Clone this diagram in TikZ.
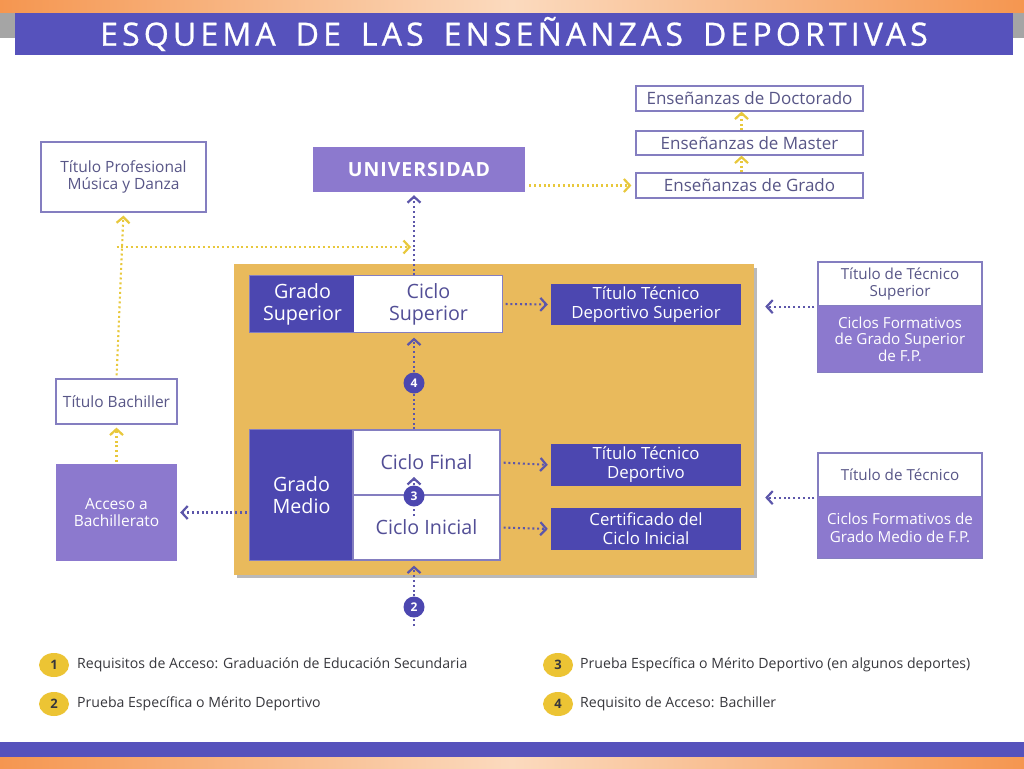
\documentclass[tikz,border=0pt]{standalone}
\usepackage{fontspec}
\setmainfont{Open Sans}
\newfontfamily\titlefont[LetterSpace=13,FakeBold=0.8]{Open Sans}
\newfontfamily\unifont[LetterSpace=5]{Open Sans}
\usetikzlibrary{arrows.meta,calc,shapes.geometric}
\definecolor{dblue}{RGB}{76,71,176}
\definecolor{hblue}{RGB}{86,82,188}
\definecolor{lpurp}{RGB}{140,121,206}
\definecolor{panelc}{RGB}{233,186,92}
\definecolor{bord}{RGB}{132,126,192}
\definecolor{btext}{RGB}{88,86,135}
\definecolor{ctext}{RGB}{82,78,150}
\definecolor{ydot}{RGB}{232,200,60}
\definecolor{pdot}{RGB}{92,86,170}
\definecolor{orng}{RGB}{245,150,80}
\definecolor{peach}{RGB}{251,218,190}
\definecolor{ybadgec}{RGB}{236,196,52}
\definecolor{legtext}{RGB}{55,55,60}
\definecolor{hgray}{RGB}{165,165,165}
\newcommand\fsz[2]{\fontsize{#1}{#2}\selectfont}
\tikzset{
 wbox/.style={draw=bord, line width=1.2pt, fill=white, text=btext, align=center, inner sep=0pt},
 dbox/.style={fill=dblue, text=white, align=center, inner sep=0pt},
 lbox/.style={fill=lpurp, text=white, align=center, inner sep=0pt},
 pdots/.style={draw=pdot, line width=2.1pt, dash pattern=on 2pt off 2.8pt},
 ydots/.style={draw=ydot, line width=2.1pt, dash pattern=on 2pt off 2.8pt},
 tip/.style={-{Straight Barb[length=6pt,width=13pt,line width=2.2pt]}},
 badge/.style={circle, fill=dblue, text=white, font=\fsz{12}{12}\bfseries, minimum size=21pt, inner sep=0pt},
 ybadge/.style={ellipse, fill=ybadgec, text=legtext, font=\fsz{13}{13}\bfseries, minimum width=30pt, minimum height=24pt, inner sep=0pt},
 legend/.style={anchor=west, text=legtext, font=\fsz{14.1}{16}, inner sep=0pt}
}
\begin{document}
\begin{tikzpicture}[x=1pt,y=-1pt]
\useasboundingbox (0,0) rectangle (1024,768);
\fill[white] (0,0) rectangle (1024,768);
% top and bottom bands
\shade[left color=orng, right color=orng, middle color=peach] (0,0) rectangle (1024,13);
\fill[hgray] (0,13) rectangle (1024,38);
\node[fill=hblue, minimum width=998pt, minimum height=42pt, inner sep=0pt, text=white, font=\titlefont\fsz{32}{32}] (title) at (514,34) {ESQUEMA\hspace{20pt}DE\hspace{20pt}LAS\hspace{20pt}ENSEÑANZAS\hspace{20pt}DEPORTIVAS};
\fill[hblue] (0,742) rectangle (1024,757);
\shade[left color=orng, right color=orng, middle color=peach] (0,757) rectangle (1024,768);

% university side
\node[wbox, minimum width=227pt, minimum height=25pt, font=\fsz{17}{19}] (doct) at (749.5,98.5) {Enseñanzas de Doctorado};
\node[wbox, minimum width=227pt, minimum height=24pt, font=\fsz{17}{19}] (master) at (749.5,143) {Enseñanzas de Master};
\node[wbox, minimum width=227pt, minimum height=25pt, font=\fsz{17}{19}] (grado) at (749.5,185.5) {Enseñanzas de Grado};
\node[lbox, minimum width=212pt, minimum height=45pt, font=\unifont\fsz{19.5}{20}\bfseries] (univ) at (419,169.5) {UNIVERSIDAD};
\node[wbox, minimum width=165pt, minimum height=70pt, font=\fsz{15.5}{17.5}] (tpmd) at (123.5,177) {Título Profesional\\Música y Danza};

% panel
\fill[gray!55] (237,268) rectangle (757,578);
\node[fill=panelc, minimum width=520pt, minimum height=311pt, inner sep=0pt] (panel) at (494,419.5) {};

\node[dbox, minimum width=105pt, minimum height=56pt, font=\fsz{19.7}{22}] (gs) at (302.5,304) {Grado\\Superior};
\node[wbox, draw=white, text=ctext, minimum width=147pt, minimum height=56pt, font=\fsz{19.7}{22}] (cs) at (428.5,304) {Ciclo\\Superior};
\draw[bord, line width=1.2pt] (gs.north west) rectangle (cs.south east);
\node[dbox, minimum width=190pt, minimum height=41pt, font=\fsz{16.8}{19}] (ttds) at (646,304.5) {Título Técnico\\Deportivo Superior};

\node[dbox, minimum width=103pt, minimum height=130pt, font=\fsz{19.7}{22}] (gm) at (301.5,495) {Grado\\Medio};
\node[wbox, text=ctext, minimum width=147pt, minimum height=65pt, font=\fsz{19.7}{22}] (cf) at (426.5,462.5) {Ciclo Final};
\node[wbox, text=ctext, minimum width=147pt, minimum height=65pt, font=\fsz{19.7}{22}] (ci) at (426.5,527.5) {Ciclo Inicial};
\draw[bord, line width=1.2pt] (gm.north west) rectangle (ci.south east);
\node[dbox, minimum width=190pt, minimum height=42pt, font=\fsz{16.8}{19}] (ttd) at (646,465) {Título Técnico\\Deportivo};
\node[dbox, minimum width=190pt, minimum height=42pt, font=\fsz{16.8}{19}] (cci) at (646,529) {Certificado del\\Ciclo Inicial};

\node[badge] (b4) at (414,383) {4};
\node[badge] (b3) at (414,496) {3};
\node[badge] (b2) at (414,607) {2};

% left side
\node[wbox, minimum width=121pt, minimum height=45pt, font=\fsz{15.5}{17.5}] (tb) at (116.5,401.5) {Título Bachiller};
\node[lbox, minimum width=121pt, minimum height=97pt, font=\fsz{15.5}{17.5}] (acc) at (116.5,512.5) {Acceso a\\Bachillerato};

% right side
\node[wbox, minimum width=164pt, minimum height=44pt, font=\fsz{15.2}{16.5}] (rts) at (900,284) {Título de Técnico\\Superior};
\node[lbox, minimum width=164pt, minimum height=66pt, font=\fsz{15.2}{16.5}] (rcs) at (900,339) {Ciclos Formativos\\de Grado Superior\\de F.P.};
\node[wbox, minimum width=164pt, minimum height=44pt, font=\fsz{15.2}{16.5}] (rt) at (900,475) {Título de Técnico};
\node[lbox, minimum width=164pt, minimum height=61pt, font=\fsz{15.2}{18}] (rcm) at (900,527.5) {Ciclos Formativos de\\Grado Medio de F.P.};
\draw[bord, line width=1.2pt] (rts.north west) rectangle (rcs.south east);
\draw[bord, line width=1.2pt] (rt.north west) rectangle (rcm.south east);

% coordinates
\coordinate (j1) at (116.5,247);
\coordinate (j2) at (411,247);
\coordinate (b3top) at (414,477);
\coordinate (b3bot) at (414,516);
\coordinate (b2bot) at (414,626);

% yellow connectors
\draw[ydots, tip] ([xshift=-8pt]grado.north) -- ([xshift=-8pt]master.south);
\draw[ydots, tip] ([xshift=-8pt]master.north) -- ([xshift=-8pt]doct.south);
\draw[ydots, tip, shorten <=4pt, shorten >=4pt] (univ.east |- grado.west) -- (grado.west);
\draw[ydots, tip, shorten <=3pt, shorten >=3pt] (tb.north) -- (tpmd.south);
\draw[ydots, tip] (j1) -- (j2);
\draw[ydots, tip, shorten <=2pt, shorten >=3pt] (acc.north) -- (tb.south);

% purple connectors
\draw[pdots, tip, shorten >=3pt] (cs.north -| b4) -- (univ.south -| b4);
\draw[pdots] (cf.north -| b4) -- (b4.south);
\draw[pdots, tip, shorten >=5pt] (b4.north) -- (cs.south -| b4);
\draw[pdots, tip] (b3.north) -- (b3top);
\draw[pdots] (b3bot) -- (b3.south);
\draw[pdots] (b2bot) -- (b2.south);
\draw[pdots, tip, shorten >=5pt] (b2.north) -- (ci.south -| b2);
\draw[pdots, tip, shorten <=3pt, shorten >=3pt] (cs.east) -- (ttds.west);
\draw[pdots, tip, shorten <=3pt, shorten >=3pt] (cf.east) -- (ttd.west);
\draw[pdots, tip, shorten <=3pt, shorten >=3pt] (ci.east) -- (cci.west);
\draw[pdots, tip, shorten <=3pt, shorten >=3pt] (gm.west |- acc.east) -- (acc.east);
\draw[pdots, tip, shorten <=3pt, shorten >=11pt] (rts.south west) -- (panel.east |- rts.south west);
\draw[pdots, tip, shorten <=3pt, shorten >=11pt] (rt.south west) -- (panel.east |- rt.south west);

% legend
\node[ybadge] (l1) at (54,665) {1};
\node[legend] (t1) at (77,665) {Requisitos de Acceso: Graduación de Educación Secundaria};
\node[ybadge] (l2) at (54,704) {2};
\node[legend] (t2) at (77,704) {Prueba Específica o Mérito Deportivo};
\node[ybadge] (l3) at (558,665) {3};
\node[legend] (t3) at (580,665) {Prueba Específica o Mérito Deportivo (en algunos deportes)};
\node[ybadge] (l4) at (558,704) {4};
\node[legend] (t4) at (580,704) {Requisito de Acceso: Bachiller};
\end{tikzpicture}
\end{document}
